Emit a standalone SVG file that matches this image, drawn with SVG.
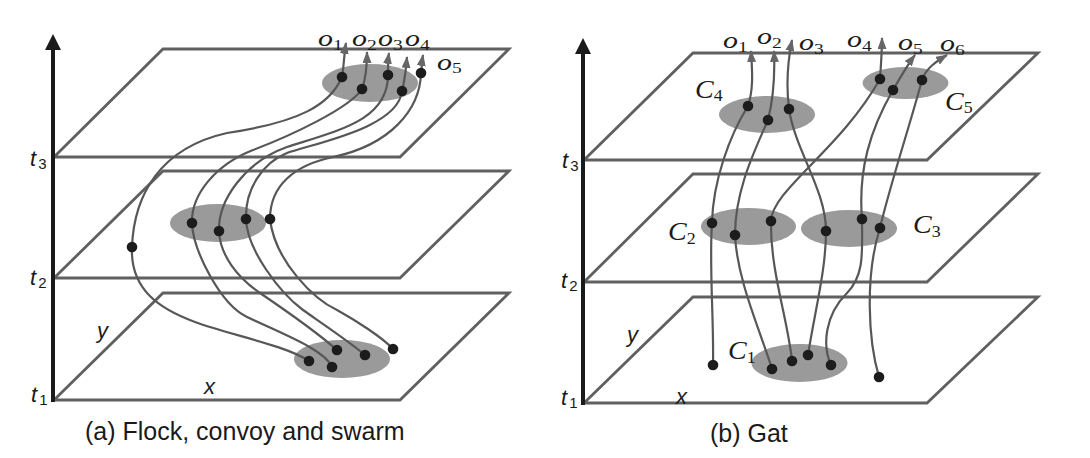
<svg xmlns="http://www.w3.org/2000/svg" width="1090" height="458" viewBox="0 0 1090 458">
<style>
.plane{fill:none;stroke:#606060;stroke-width:2.8;stroke-linejoin:miter}
.axis{stroke:#1a1a1a;stroke-width:4}
.axhead{fill:#1a1a1a}
.clu{fill:#9a9a9a}
.dot{fill:#1c1c1c}
.traj{fill:none;stroke:#575757;stroke-width:2.2}
.arr{marker-end:url(#ah)}
.ser{font-family:"Liberation Serif","Times New Roman",serif;font-style:italic;fill:#1a1a1a}
.san{font-family:"Liberation Sans",Arial,sans-serif;font-style:italic;fill:#1a1a1a}
.sub{font-style:normal}
.cap{font-family:"Liberation Sans",Arial,sans-serif;font-size:25px;fill:#1a1a1a}
</style>
<defs>
<marker id="ah" viewBox="0 0 12 9" refX="11" refY="4.5" markerWidth="12" markerHeight="9" markerUnits="userSpaceOnUse" orient="auto">
<path d="M0,0 L12,4.5 L0,9 z" fill="#666"/>
</marker>
</defs>
<rect width="1090" height="458" fill="#fff"/>

<!-- Panel (a) -->
<g id="panel-a-frame">
<polygon class="plane" points="54,400 163,293 509,293 400,400"/>
<polygon class="plane" points="54,278 163,171 509,171 400,278"/>
<polygon class="plane" points="54,157 163,49 509,49 400,157"/>
<line class="axis" x1="53" y1="402" x2="53" y2="46"/>
<polygon class="axhead" points="53,34 45,50 61,50"/>
</g>
<g id="a-clusters">
<ellipse id="a-cluster-t3" class="clu" cx="370" cy="83" rx="48" ry="19"/>
<ellipse id="a-cluster-t2" class="clu" cx="218" cy="223" rx="48" ry="19"/>
<ellipse id="a-cluster-t1" class="clu" cx="342" cy="359" rx="48" ry="19"/>
</g>
<g id="a-connectors">
<path class="traj arr" d="M309,361 C285,345 230,335 195,322 C160,309 130,290 132,247 C134,195 160,148 227,133 C300,122 330,105 342,77 C344,65 344,55 346,43"/>
<path class="traj arr" d="M332,367 C325,350 285,335 247,317 C220,304 193,250 192,223 C191,195 215,165 253,150 C290,136 350,108 362,89 C366,78 367,65 367,52"/>
<path class="traj arr" d="M337,350 C320,335 285,310 260,293 C237,277 220,255 219,231 C218,200 245,162 287,147 C340,130 388,120 388,75 C388,68 388,60 389,53"/>
<path class="traj arr" d="M365,355 C350,342 320,322 303,310 C280,293 247,250 246,219 C245,190 262,163 287,153 C315,143 398,128 402,91 C405,80 406,68 407,57"/>
<path class="traj arr" d="M393,349 C382,337 355,320 337,310 C315,300 275,262 270,219 C270,185 295,165 333,157 C390,145 420,110 421,73 C422,67 422,61 423,55"/>
</g>
<g id="a-objects">
<circle class="dot" cx="342" cy="77" r="5.3"/><circle class="dot" cx="362" cy="89" r="5.3"/><circle class="dot" cx="388" cy="75" r="5.3"/><circle class="dot" cx="402" cy="91" r="5.3"/><circle class="dot" cx="421" cy="73" r="5.3"/>
<circle class="dot" cx="192" cy="223" r="5.3"/><circle class="dot" cx="219" cy="231" r="5.3"/><circle class="dot" cx="246" cy="219" r="5.3"/><circle class="dot" cx="270" cy="219" r="5.3"/>
<circle class="dot" cx="132" cy="247" r="5.3"/>
<circle class="dot" cx="309" cy="361" r="5.3"/><circle class="dot" cx="332" cy="367" r="5.3"/><circle class="dot" cx="337" cy="350" r="5.3"/><circle class="dot" cx="365" cy="355" r="5.3"/><circle class="dot" cx="393" cy="349" r="5.3"/>
</g>
<g id="a-labels">
<text class="ser" font-size="23" transform="translate(318,46) scale(1.3,1)">o<tspan class="sub" font-size="15" dy="4">1</tspan></text>
<text class="ser" font-size="23" transform="translate(352,46) scale(1.3,1)">o<tspan class="sub" font-size="15" dy="4">2</tspan></text>
<text class="ser" font-size="23" transform="translate(378,46) scale(1.3,1)">o<tspan class="sub" font-size="15" dy="4">3</tspan></text>
<text class="ser" font-size="23" transform="translate(405,46) scale(1.3,1)">o<tspan class="sub" font-size="15" dy="4">4</tspan></text>
<text class="ser" font-size="23" transform="translate(437,70) scale(1.3,1)">o<tspan class="sub" font-size="15" dy="3">5</tspan></text>
<text class="san" font-size="22" x="30" y="166">t<tspan class="sub" font-size="15" dx="2" dy="3">3</tspan></text>
<text class="san" font-size="22" x="30" y="285">t<tspan class="sub" font-size="15" dx="2" dy="3">2</tspan></text>
<text class="san" font-size="22" x="31" y="402">t<tspan class="sub" font-size="15" dx="2" dy="3">1</tspan></text>
<text class="san" font-size="22" x="97" y="338">y</text>
<text class="san" font-size="22" x="204" y="394">x</text>
<text class="cap" x="85" y="440">(a) Flock, convoy and swarm</text>
</g>

<!-- Panel (b) -->
<g id="panel-b-frame">
<polygon class="plane" points="584,403 693,297 1038,297 927,403"/>
<polygon class="plane" points="584,282 693,174 1038,174 927,282"/>
<polygon class="plane" points="584,160 693,53 1038,53 927,160"/>
<line class="axis" x1="583" y1="405" x2="583" y2="50"/>
<polygon class="axhead" points="583,38 575,54 591,54"/>
</g>
<g id="b-clusters">
<ellipse id="C4" class="clu" cx="767" cy="114.5" rx="48" ry="18.5"/>
<ellipse id="C5" class="clu" cx="905.5" cy="83" rx="43" ry="16"/>
<ellipse id="C2" class="clu" cx="748.5" cy="226.5" rx="47.5" ry="18.5"/>
<ellipse id="C3" class="clu" cx="849" cy="228.5" rx="48" ry="18.5"/>
<ellipse id="C1" class="clu" cx="799.5" cy="363" rx="48" ry="19"/>
</g>
<g id="b-connectors">
<path class="traj arr" d="M713,365 C714,320 709,265 712,223 C713,180 730,135 748,106 C754,88 752,68 751,51"/>
<path class="traj arr" d="M772,369 C760,330 737,280 735,235 C735,190 755,150 768,120 C773,100 775,75 774,51"/>
<path class="traj arr" d="M808,355 C815,310 826,270 826,231 C826,190 795,150 789,109 C786,85 788,60 792,40"/>
<path class="traj arr" d="M792,361 C788,320 770,270 771,221 C772,190 840,150 880,79 C881,65 882,50 882,38"/>
<path class="traj arr" d="M831,365 C822,345 825,315 847,293 C865,275 862,250 862,219 C858,170 870,130 893,90 C900,78 908,64 915,55"/>
<path class="traj arr" d="M879,377 C868,340 865,275 880,228 C890,185 910,125 922,80 C926,68 937,61 947,55"/>
</g>
<g id="b-objects">
<circle class="dot" cx="748" cy="106" r="5.3"/><circle class="dot" cx="768" cy="120" r="5.3"/><circle class="dot" cx="789" cy="109" r="5.3"/>
<circle class="dot" cx="880" cy="79" r="5.3"/><circle class="dot" cx="893" cy="90" r="5.3"/><circle class="dot" cx="922" cy="80" r="5.3"/>
<circle class="dot" cx="712" cy="223" r="5.3"/><circle class="dot" cx="735" cy="235" r="5.3"/><circle class="dot" cx="771" cy="221" r="5.3"/>
<circle class="dot" cx="826" cy="231" r="5.3"/><circle class="dot" cx="862" cy="219" r="5.3"/><circle class="dot" cx="880" cy="228" r="5.3"/>
<circle class="dot" cx="772" cy="369" r="5.3"/><circle class="dot" cx="792" cy="361" r="5.3"/><circle class="dot" cx="808" cy="355" r="5.3"/><circle class="dot" cx="831" cy="365" r="5.3"/>
<circle class="dot" cx="713" cy="365" r="5.3"/><circle class="dot" cx="879" cy="377" r="5.3"/>
</g>
<g id="b-labels">
<text class="ser" font-size="23" transform="translate(723,48) scale(1.3,1)">o<tspan class="sub" font-size="15" dy="4">1</tspan></text>
<text class="ser" font-size="23" transform="translate(757,44) scale(1.3,1)">o<tspan class="sub" font-size="15" dy="4">2</tspan></text>
<text class="ser" font-size="23" transform="translate(799,50) scale(1.3,1)">o<tspan class="sub" font-size="15" dy="4">3</tspan></text>
<text class="ser" font-size="23" transform="translate(847,46.5) scale(1.3,1)">o<tspan class="sub" font-size="15" dy="4">4</tspan></text>
<text class="ser" font-size="23" transform="translate(898,50) scale(1.3,1)">o<tspan class="sub" font-size="15" dy="4">5</tspan></text>
<text class="ser" font-size="23" transform="translate(940,50.5) scale(1.3,1)">o<tspan class="sub" font-size="15" dy="4">6</tspan></text>
<text class="ser" font-size="25" transform="translate(695,98) scale(1.12,1)">C<tspan class="sub" font-size="16" dy="3">4</tspan></text>
<text class="ser" font-size="25" transform="translate(945,110) scale(1.12,1)">C<tspan class="sub" font-size="16" dy="3">5</tspan></text>
<text class="ser" font-size="25" transform="translate(668,240) scale(1.12,1)">C<tspan class="sub" font-size="16" dy="4">2</tspan></text>
<text class="ser" font-size="25" transform="translate(913,233) scale(1.12,1)">C<tspan class="sub" font-size="16" dy="4">3</tspan></text>
<text class="ser" font-size="25" transform="translate(728,359) scale(1.12,1)">C<tspan class="sub" font-size="16" dy="4">1</tspan></text>
<text class="san" font-size="22" x="562" y="168">t<tspan class="sub" font-size="15" dx="2" dy="3">3</tspan></text>
<text class="san" font-size="22" x="561" y="288">t<tspan class="sub" font-size="15" dx="2" dy="3">2</tspan></text>
<text class="san" font-size="22" x="561" y="405">t<tspan class="sub" font-size="15" dx="2" dy="3">1</tspan></text>
<text class="san" font-size="22" x="627" y="342">y</text>
<text class="san" font-size="22" x="676" y="404">x</text>
<text class="cap" x="710" y="442">(b) Gat</text>
</g>
</svg>
